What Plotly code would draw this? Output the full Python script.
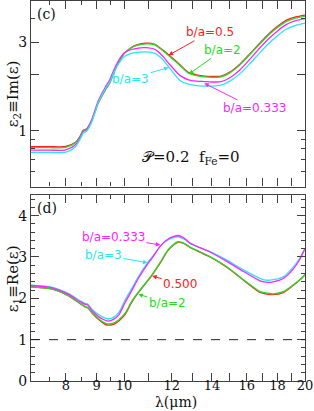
import math
import plotly.graph_objects as go

# ---------------- data ----------------
lam_im = [7.0, 7.5, 8.0, 8.3, 8.45, 8.55, 8.67, 8.84, 9.05, 9.3, 9.45, 9.7, 10.0, 10.25, 10.5, 10.85,
          11.25, 11.6, 11.9, 12.4, 12.8, 13.2, 13.6, 14.0, 14.5, 15.0, 15.6, 16.2, 16.8, 17.4, 18.0,
          18.6, 19.3, 20.0]
im_red = [0.82, 0.82, 0.822, 0.865, 0.935, 1.005, 1.025, 1.14, 1.40, 1.65, 1.79, 2.19, 2.60, 2.79, 2.90,
          2.96, 2.92, 2.72, 2.54, 2.26, 2.06, 2.00, 1.97, 1.96, 1.97, 2.07, 2.29, 2.60, 2.95, 3.32, 3.65,
          3.93, 4.10, 4.20]
im_green = [0.81, 0.81, 0.812, 0.86, 0.93, 1.00, 1.02, 1.14, 1.41, 1.66, 1.80, 2.20, 2.60, 2.78, 2.88,
            2.94, 2.90, 2.70, 2.52, 2.24, 2.04, 1.98, 1.95, 1.94, 1.95, 2.05, 2.27, 2.58, 2.92, 3.28, 3.60,
            3.87, 4.04, 4.13]
im_magenta = [0.785, 0.785, 0.788, 0.84, 0.92, 0.99, 1.01, 1.15, 1.44, 1.71, 1.86, 2.26, 2.62, 2.73, 2.78,
              2.80, 2.74, 2.52, 2.28, 1.98, 1.88, 1.85, 1.84, 1.83, 1.84, 1.93, 2.13, 2.43, 2.78, 3.13,
              3.45, 3.73, 3.92, 4.02]
im_cyan = [0.763, 0.763, 0.766, 0.82, 0.90, 0.97, 0.995, 1.12, 1.41, 1.67, 1.81, 2.18, 2.50, 2.60, 2.64,
           2.66, 2.61, 2.42, 2.18, 1.86, 1.78, 1.75, 1.74, 1.74, 1.76, 1.85, 2.03, 2.30, 2.62, 2.95, 3.25,
           3.52, 3.70, 3.80]

lam_re = [7.0, 7.5, 7.8, 8.1, 8.45, 8.6, 8.7, 8.85, 9.1, 9.3, 9.42, 9.6, 9.8, 10.04, 10.3, 10.56, 10.97,
          11.14, 11.5, 11.85, 12.3, 12.6, 12.87, 13.4, 13.9, 14.8, 15.8, 16.8, 17.2, 17.7, 18.4, 19.1,
          19.6, 20.0]
re_red = [2.28, 2.24, 2.17, 2.05, 1.87, 1.80, 1.77, 1.64, 1.47, 1.37, 1.35, 1.37, 1.45, 1.61, 1.91, 2.14,
          2.44, 2.57, 2.87, 3.17, 3.36, 3.32, 3.23, 3.11, 3.00, 2.76, 2.44, 2.15, 2.11, 2.09, 2.14, 2.31,
          2.44, 2.57]
re_green = [2.28, 2.24, 2.17, 2.06, 1.88, 1.81, 1.78, 1.65, 1.49, 1.40, 1.38, 1.40, 1.48, 1.64, 1.93, 2.15,
            2.45, 2.58, 2.88, 3.18, 3.37, 3.33, 3.24, 3.12, 3.01, 2.77, 2.45, 2.17, 2.13, 2.11, 2.16, 2.32,
            2.45, 2.57]
re_magenta = [2.31, 2.27, 2.20, 2.09, 1.92, 1.86, 1.84, 1.70, 1.54, 1.47, 1.45, 1.49, 1.60, 1.90, 2.19,
              2.48, 2.85, 2.98, 3.27, 3.44, 3.52, 3.45, 3.34, 3.22, 3.12, 2.90, 2.65, 2.43, 2.39, 2.40,
              2.48, 2.70, 2.94, 3.20]
re_cyan = [2.32, 2.28, 2.21, 2.11, 1.94, 1.88, 1.86, 1.73, 1.59, 1.52, 1.50, 1.54, 1.66, 1.96, 2.24, 2.52,
           2.88, 3.00, 3.27, 3.42, 3.49, 3.43, 3.33, 3.22, 3.13, 2.93, 2.69, 2.49, 2.44, 2.45, 2.52, 2.75,
           2.97, 3.21]

x_range = [7, 20]
x_major = [8, 9, 10, 11, 12, 13, 14, 15, 16, 17, 18, 19, 20]
x_labels = ["8", "9", "10", "", "12", "", "14", "", "16", "", "18", "", "20"]
x_minor = [7.5, 8.5, 9.5]
im_range = [0.5, 5]
im_major = [1, 2, 3]
im_labels = ["1", "", "3"]
im_minor = [0.6, 0.7, 0.8, 0.9, 4]
re_range = [0, 4.5]
re_major = [0, 1, 2, 3, 4]
re_minor = [v / 5 for v in range(0, 23)]
ref_level = 1.0

C_RED = "#ff2020"
C_GREEN = "#22dd22"
C_CYAN = "#22e8f0"
C_MAG = "#ff22ff"
AX = "#404040"
SERIF = "DejaVu Serif"
SANS = "DejaVu Sans"

fig = go.Figure()


def add(x, y, color, ax, width=1.3):
    fig.add_trace(go.Scatter(x=x, y=y, mode="lines", xaxis=ax[0], yaxis=ax[1],
                             line=dict(color=color, width=width, shape="spline", smoothing=0.7),
                             showlegend=False, hoverinfo="skip"))


top = ("x2", "y2")
bot = ("x", "y")
add(lam_im, im_red, C_RED, top)
add(lam_im, im_green, C_GREEN, top)
add(lam_im, im_magenta, C_MAG, top)
add(lam_im, im_cyan, C_CYAN, top)
add(lam_re, re_red, C_RED, bot)
add(lam_re, re_green, C_GREEN, bot)
add(lam_re, re_cyan, C_CYAN, bot)
add(lam_re, re_magenta, C_MAG, bot)

lx = [math.log10(v) for v in x_range]
common = dict(showline=True, linecolor=AX, linewidth=1.2, mirror="allticks", ticks="inside",
              ticklen=8, tickcolor=AX, tickwidth=1, showgrid=False, zeroline=False)
yfont = dict(family=SERIF, size=14, color="#111")
xfont = dict(family=SERIF, size=13, color="#111")
fig.update_layout(
    width=314, height=411, margin=dict(l=31, r=9, t=1, b=30),
    paper_bgcolor="white", plot_bgcolor="white",
    xaxis=dict(type="log", range=lx, domain=[0, 1], tickmode="array", tickvals=x_major, ticktext=x_labels,
               minor=dict(tickmode="array", tickvals=x_minor, ticklen=4, ticks="inside", tickcolor=AX),
               anchor="y", tickfont=xfont, ticklabelposition="outside", ticklabelstandoff=-8, **common),
    xaxis2=dict(type="log", range=lx, domain=[0, 1], tickmode="array", tickvals=x_major, showticklabels=False,
                minor=dict(tickmode="array", tickvals=x_minor, ticklen=4, ticks="inside", tickcolor=AX),
                anchor="y2", matches="x", tickfont=xfont, **common),
    yaxis=dict(range=re_range, domain=[0, 0.4895], tickmode="array", tickvals=re_major,
               minor=dict(tickmode="array", tickvals=re_minor, ticklen=4, ticks="inside", tickcolor=AX),
               anchor="x", tickfont=yfont, **common),
    yaxis2=dict(type="log", range=[math.log10(v) for v in im_range], domain=[0.5118, 1.0], tickmode="array",
                tickvals=im_major, ticktext=im_labels,
                minor=dict(tickmode="array", tickvals=im_minor, ticklen=4, ticks="inside", tickcolor=AX),
                anchor="x2", tickfont=yfont, **common),
)

fig.add_shape(type="line", xref="x domain", yref="y", x0=0, x1=1, y0=ref_level, y1=ref_level,
              line=dict(color="#222", width=1, dash="dash"))


def lab(text, xv, yv, ax, ay, color, xr, yr, logy):
    fig.add_annotation(text=text, x=math.log10(xv), y=math.log10(yv) if logy else yv, xref=xr, yref=yr,
                       ax=ax, ay=ay, showarrow=True, arrowhead=2, arrowsize=0.9, arrowwidth=1,
                       arrowcolor=color, font=dict(family=SANS, size=12, color=color))


lab("b/a=0.5", 11.86, 2.55, 41, -23, C_RED, "x2", "y2", True)
lab("b/a=2", 12.82, 2.02, 34, -24, C_GREEN, "x2", "y2", True)
lab("b/a=3", 11.86, 2.19, -38, 11, C_CYAN, "x2", "y2", True)
lab("b/a=0.333", 13.6, 1.80, 50, 25, C_MAG, "x2", "y2", True)
lab("b/a=0.333", 11.49, 3.29, -47, -8, C_MAG, "x", "y", False)
lab("b/a=3", 10.94, 2.86, -44, -8, C_CYAN, "x", "y", False)
lab("0.500", 11.14, 2.54, 28, 8, C_RED, "x", "y", False)
lab("b/a=2", 10.56, 2.10, 29, 9, C_GREEN, "x", "y", False)

fig.add_annotation(text="(c)", x=0.016, y=0.93, xref="x2 domain", yref="y2 domain", xanchor="left",
                   yanchor="middle", showarrow=False, font=dict(family=SERIF, size=14, color="#111"))
fig.add_annotation(text="(d)", x=0.016, y=0.93, xref="x domain", yref="y domain", xanchor="left",
                   yanchor="middle", showarrow=False, font=dict(family=SERIF, size=14, color="#111"))
fig.add_annotation(text="𝒫=0.2  f<sub>Fe</sub>=0", x=0.398, y=0.159, xref="x2 domain", yref="y2 domain",
                   xanchor="left", yanchor="middle", showarrow=False,
                   font=dict(family=SERIF, size=15, color="#111"))

fig.add_annotation(text="ε<sub>2</sub>≡Im(ε)", x=-29 / 274, y=0.5, xref="x2 domain", yref="y2 domain",
                   xanchor="left", yanchor="middle", textangle=-90, showarrow=False,
                   font=dict(family=SERIF, size=15, color="#111"))
fig.add_annotation(text="ε<sub>1</sub>≡Re(ε)", x=-29 / 274, y=0.55, xref="x domain", yref="y domain",
                   xanchor="left", yanchor="middle", textangle=-90, showarrow=False,
                   font=dict(family=SERIF, size=15, color="#111"))
fig.add_annotation(text="λ(μm)", x=0.53, y=0, xref="x domain", yref="paper",
                   xanchor="center", yanchor="bottom", yshift=-30, borderpad=0, showarrow=False,
                   font=dict(family=SERIF, size=14, color="#111"))

fig.write_html("out.html", config={"displayModeBar": False},
               post_script="document.body.style.margin='0';document.body.style.overflow='hidden';")
